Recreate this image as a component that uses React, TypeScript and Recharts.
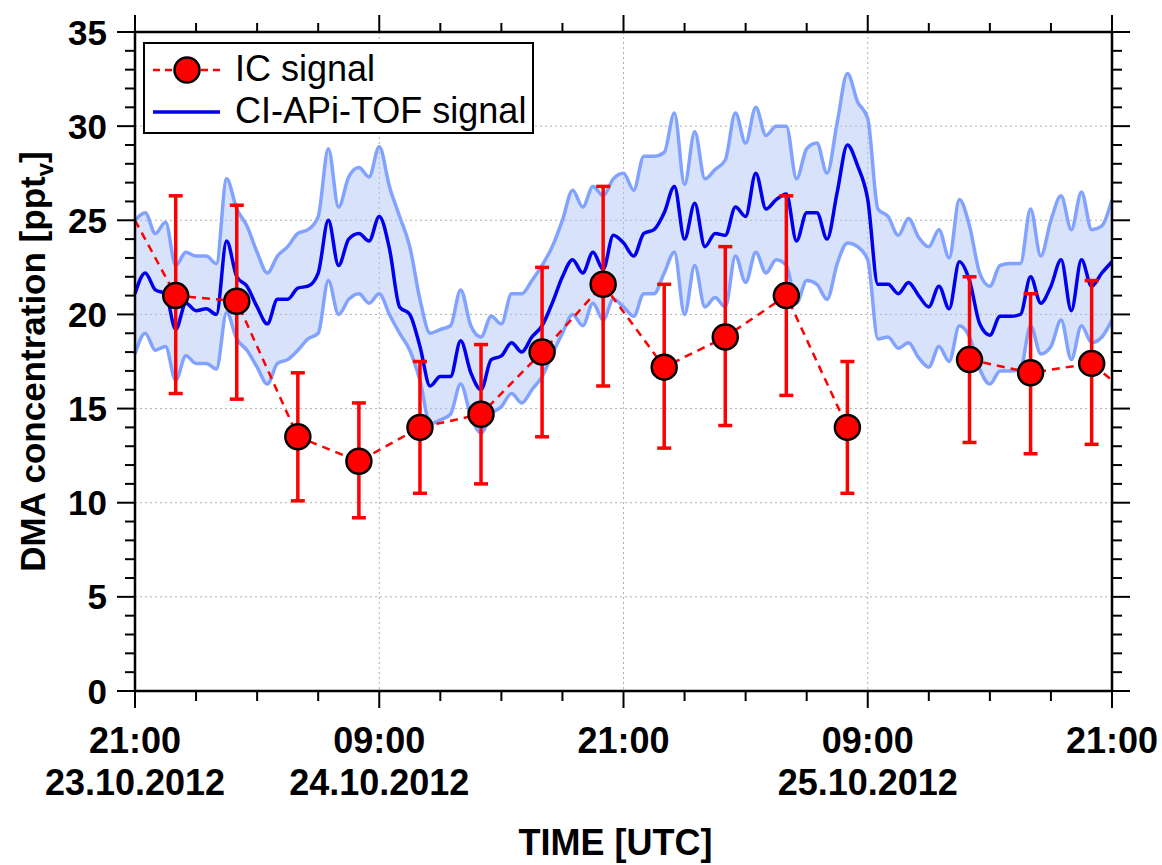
import React from "react";
import {
  ComposedChart,
  Area,
  Line,
  Scatter,
  ErrorBar,
  XAxis,
  YAxis,
  CartesianGrid,
} from "recharts";

const FONT = '"Liberation Sans", Arial, sans-serif';

// hours after 21:00 UTC on 23.10.2012
const ciHours = [
  0, 0.5, 1, 1.5, 2, 2.5, 3, 3.5, 4, 4.5, 5, 5.5, 6, 6.5, 7, 7.5, 8, 8.5, 9, 9.5,
  10, 10.5, 11, 11.5, 12, 12.5, 13, 13.5, 14, 14.5, 15, 15.5, 16, 16.5, 17, 17.5,
  18, 18.5, 19, 19.5, 20, 20.5, 21, 21.5, 22, 22.5, 23, 23.5, 24, 24.5, 25, 25.5,
  26, 26.5, 27, 27.5, 28, 28.5, 29, 29.5, 30, 30.5, 31, 31.5, 32, 32.5, 33, 33.5,
  34, 34.5, 35, 35.5, 36, 36.5, 37, 37.5, 38, 38.5, 39, 39.5, 40, 40.5, 41, 41.5,
  42, 42.5, 43, 43.5, 44, 44.5, 45, 45.5, 46, 46.5, 47, 47.5, 48,
];

// CI-APi-TOF signal and its uncertainty band
const ciSignal = [
  21.1, 22.2, 21.3, 21.1, 19.2, 20.6, 20.2, 20.3, 20.0, 23.9, 22.0, 21.5, 20.4, 19.5, 20.8, 20.8, 21.4, 21.5, 22.2, 25.0,
  22.6, 24.0, 24.3, 23.9, 25.2, 23.5, 20.4, 20.0, 18.3, 16.2, 16.7, 16.7, 18.6, 16.9, 16.0, 17.6,
  17.8, 18.5, 18.0, 18.8, 19.4, 20.6, 22.0, 22.9, 22.2, 23.3, 22.4, 24.2, 23.8, 23.1, 24.3, 24.5,
  25.4, 26.8, 24.0, 25.9, 23.6, 24.3, 24.2, 25.7, 25.2, 27.5, 25.6, 26.1, 26.4, 23.9, 25.4, 25.4,
  24.0, 26.5, 29.0, 27.9, 26.1, 21.6, 21.6, 21.1, 21.7, 21.0, 20.4, 21.5, 20.3, 22.8, 21.8, 19.5,
  18.9, 19.9, 19.9, 20.0, 22.0, 20.6, 21.5, 22.9, 20.2, 22.9, 21.5, 22.2, 22.8,
];
const ciUpper = [
  25.0, 25.4, 24.3, 24.9, 22.6, 23.3, 23.1, 23.1, 22.7, 27.2, 25.6, 24.7, 23.3, 22.2, 23.1, 23.6, 24.3, 24.5, 25.2, 28.8,
  25.7, 27.3, 27.8, 27.3, 28.9, 26.8, 25.2, 23.6, 20.8, 19.0, 19.2, 19.4, 21.3, 19.4, 18.8, 19.9,
  19.5, 21.1, 21.1, 21.8, 22.6, 23.6, 25.0, 26.6, 25.7, 26.8, 26.3, 27.2, 27.5, 26.6, 28.4, 28.4,
  28.6, 30.7, 26.9, 29.7, 27.2, 27.7, 28.2, 30.7, 29.1, 31.0, 29.5, 30.0, 30.0, 27.2, 28.8, 29.1,
  27.5, 30.2, 32.8, 31.3, 30.4, 25.6, 25.2, 24.2, 25.1, 24.1, 23.6, 24.5, 23.0, 26.1, 24.7, 22.2,
  21.5, 22.6, 22.7, 22.7, 25.6, 23.1, 25.0, 26.3, 24.5, 26.5, 24.5, 24.7, 26.1,
];
const ciLower = [
  17.9, 19.0, 18.1, 18.3, 16.5, 17.8, 17.4, 17.4, 17.1, 20.1, 18.7, 18.1, 17.2, 16.3, 17.4, 17.6, 18.1, 18.7, 19.0, 21.8,
  20.0, 20.8, 21.1, 20.6, 21.1, 20.0, 19.0, 18.1, 16.5, 14.2, 14.4, 14.7, 16.3, 14.6, 13.7, 14.7,
  15.1, 15.8, 15.3, 16.0, 16.7, 17.9, 19.0, 20.0, 19.4, 20.6, 19.7, 20.8, 20.4, 19.9, 21.1, 21.1,
  22.2, 23.3, 20.0, 22.6, 20.4, 20.9, 20.4, 23.1, 21.7, 23.3, 22.2, 22.9, 22.6, 20.6, 21.8, 21.6,
  20.8, 22.7, 23.8, 23.6, 22.9, 18.7, 18.8, 18.2, 18.5, 17.7, 17.2, 18.3, 17.5, 19.4, 18.8, 17.1,
  16.3, 17.0, 17.0, 17.1, 19.4, 17.9, 18.3, 19.7, 17.6, 19.4, 18.5, 18.8, 19.7,
];

// IC samples with error bar ends
const icHours = [2, 5, 8, 11, 14, 17, 20, 23, 26, 29, 32, 35, 41, 44, 47];
const icValues = [21.0, 20.7, 13.5, 12.2, 14.0, 14.7, 18.0, 21.6, 17.2, 18.8, 21.0, 14.0, 17.6, 16.9, 17.4];
const icHigh = [26.3, 25.8, 16.9, 15.3, 17.5, 18.4, 22.5, 26.8, 21.6, 23.6, 26.3, 17.5, 22.0, 21.1, 21.8];
const icLow = [15.8, 15.5, 10.1, 9.2, 10.5, 11.0, 13.5, 16.2, 12.9, 14.1, 15.7, 10.5, 13.2, 12.6, 13.1];

// dashed IC trace, running out to the plot edges; null = break
const icTraceHours = [0, 2, 5, 8, 11, 14, 17, 20, 23, 26, 29, 32, 35, 38, 41, 44, 47, 48];
const icTraceValues = [25.0, 21.0, 20.7, 13.5, 12.2, 14.0, 14.7, 18.0, 21.6, 17.2, 18.8, 21.0, 14.0, null, 17.6, 16.9, 17.4, 16.5];

// axes
const hourTicks = [0, 3, 6, 9, 12, 15, 18, 21, 24, 27, 30, 33, 36, 39, 42, 45, 48];
const majorHours = [0, 12, 24, 36, 48];
const tickTimes = ["21:00", "09:00", "21:00", "09:00", "21:00"];
const tickDates = ["23.10.2012", "24.10.2012", "", "25.10.2012", ""];
const concTicks = [
  0, 1, 2, 3, 4, 5, 6, 7, 8, 9, 10, 11, 12, 13, 14, 15, 16, 17, 18, 19, 20, 21, 22, 23,
  24, 25, 26, 27, 28, 29, 30, 31, 32, 33, 34, 35,
];
const gridConc = [5, 10, 15, 20, 25, 30];
const gridHours = [12, 24, 36];

const ciData = ciHours.map((h, i) => ({
  h,
  signal: ciSignal[i],
  upper: ciUpper[i],
  lower: ciLower[i],
  band: [ciLower[i], ciUpper[i]],
}));

const icData = icHours.map((h, i) => ({
  h,
  v: icValues[i],
  err: [icValues[i] - icLow[i], icHigh[i] - icValues[i]],
}));

const icTrace = icTraceHours.map((h, i) => ({ h, v: icTraceValues[i] }));

const axisLine = { stroke: "#000", strokeWidth: 2.5 };

const BottomTick = (props: any) => {
  const { x, y, payload } = props;
  const idx = majorHours.indexOf(payload.value);
  const major = idx >= 0;
  return (
    <g>
      <line x1={x} x2={x} y1={y} y2={y + (major ? 17 : 10)} stroke="#000" strokeWidth={2} />
      {major && (
        <text x={x} y={y + 62} textAnchor="middle" fontFamily={FONT} fontSize={36} fontWeight="bold" fill="#000">
          {tickTimes[idx]}
        </text>
      )}
      {major && tickDates[idx] && (
        <text x={x} y={y + 104} textAnchor="middle" fontFamily={FONT} fontSize={36} fontWeight="bold" fill="#000">
          {tickDates[idx]}
        </text>
      )}
    </g>
  );
};

const TopTick = (props: any) => {
  const { x, y, payload } = props;
  const major = majorHours.includes(payload.value);
  return <line x1={x} x2={x} y1={y} y2={y - (major ? 17 : 9)} stroke="#000" strokeWidth={2} />;
};

const LeftTick = (props: any) => {
  const { x, y, payload } = props;
  const major = payload.value % 5 === 0;
  return (
    <g>
      <line x1={x} x2={x - (major ? 18 : 10)} y1={y} y2={y} stroke="#000" strokeWidth={2} />
      {major && (
        <text x={x - 28} y={y + 12.5} textAnchor="end" fontFamily={FONT} fontSize={35} fontWeight="bold" fill="#000">
          {payload.value}
        </text>
      )}
    </g>
  );
};

const RightTick = (props: any) => {
  const { x, y, payload } = props;
  const major = payload.value % 5 === 0;
  return <line x1={x} x2={x + (major ? 18 : 10)} y1={y} y2={y} stroke="#000" strokeWidth={2} />;
};

const concLabel = (props: any) => {
  const vb = props.viewBox;
  const bx = vb.x + 45;
  const cy = vb.y + vb.height / 2;
  return (
    <text
      x={bx}
      y={cy}
      transform={`rotate(-90, ${bx}, ${cy})`}
      textAnchor="middle"
      fontFamily={FONT}
      fontSize={35}
      fontWeight="bold"
      fill="#000"
    >
      DMA concentration [ppt
      <tspan fontSize={24} dy={8}>v</tspan>
      <tspan dy={-8}>]</tspan>
    </text>
  );
};

const timeLabel = (props: any) => {
  const vb = props.viewBox;
  return (
    <text
      x={vb.x + vb.width / 2 - 8}
      y={vb.y + 164}
      textAnchor="middle"
      fontFamily={FONT}
      fontSize={36}
      fontWeight="bold"
      fill="#000"
    >
      TIME [UTC]
    </text>
  );
};

const IcMarker = (props: any) => (
  <circle cx={props.cx} cy={props.cy} r={12.5} fill="#ff0000" stroke="#000" strokeWidth={2.5} />
);

const LegendBox = () => (
  <div
    style={{
      position: "absolute",
      left: 143,
      top: 42,
      width: 391,
      height: 92,
      boxSizing: "border-box",
      border: "2px solid #000",
      background: "#fff",
      fontFamily: FONT,
      fontSize: 36,
      color: "#000",
    }}
  >
    <svg width={90} height={88} style={{ position: "absolute", left: 0, top: 0 }}>
      <line x1={8} x2={75} y1={26} y2={26} stroke="#ff0000" strokeWidth={2.5} strokeDasharray="7 5" />
      <circle cx={42} cy={26} r={12.5} fill="#ff0000" stroke="#000" strokeWidth={2.5} />
      <line x1={8} x2={75} y1={68} y2={68} stroke="#0000ee" strokeWidth={3.5} />
    </svg>
    <div style={{ position: "absolute", left: 90, top: 5, lineHeight: "40px", whiteSpace: "nowrap" }}>IC signal</div>
    <div style={{ position: "absolute", left: 90, top: 47, lineHeight: "40px", whiteSpace: "nowrap" }}>
      CI-APi-TOF signal
    </div>
  </div>
);

export default function App() {
  return (
    <div style={{ position: "absolute", left: 0, top: 0, width: 1162, height: 865, background: "#fff" }}>
      <ComposedChart width={1162} height={865} margin={{ top: 0, right: 0, bottom: 0, left: 0 }}>
        <CartesianGrid
          xAxisId="b"
          yAxisId="l"
          horizontalValues={gridConc}
          verticalValues={gridHours}
          stroke="#b0b0b0"
          strokeDasharray="2 3"
          strokeWidth={1}
        />
        <XAxis
          xAxisId="b"
          dataKey="h"
          type="number"
          domain={[0, 48]}
          ticks={hourTicks}
          interval={0}
          height={174}
          tickSize={0}
          tickMargin={0}
          tickLine={false}
          axisLine={axisLine}
          tick={<BottomTick />}
          label={timeLabel}
        />
        <XAxis
          xAxisId="t"
          orientation="top"
          dataKey="h"
          type="number"
          domain={[0, 48]}
          ticks={hourTicks}
          interval={0}
          height={32}
          tickSize={0}
          tickMargin={0}
          tickLine={false}
          axisLine={axisLine}
          tick={<TopTick />}
        />
        <YAxis
          yAxisId="l"
          type="number"
          domain={[0, 35]}
          ticks={concTicks}
          interval={0}
          width={135}
          tickSize={0}
          tickMargin={0}
          tickLine={false}
          axisLine={axisLine}
          tick={<LeftTick />}
          label={concLabel}
        />
        <YAxis
          yAxisId="r"
          orientation="right"
          type="number"
          domain={[0, 35]}
          ticks={concTicks}
          interval={0}
          width={50}
          tickSize={0}
          tickMargin={0}
          tickLine={false}
          axisLine={axisLine}
          tick={<RightTick />}
        />

        <Area
          xAxisId="b"
          yAxisId="l"
          data={ciData}
          dataKey="band"
          type="monotone"
          stroke="none"
          fill="#a9bff4"
          fillOpacity={0.45}
          isAnimationActive={false}
        />
        <Line
          xAxisId="t"
          yAxisId="r"
          data={ciData}
          dataKey="upper"
          type="monotone"
          stroke="#82a2ff"
          strokeWidth={3.5}
          dot={false}
          activeDot={false}
          isAnimationActive={false}
        />
        <Line
          xAxisId="t"
          yAxisId="r"
          data={ciData}
          dataKey="lower"
          type="monotone"
          stroke="#82a2ff"
          strokeWidth={3.5}
          dot={false}
          activeDot={false}
          isAnimationActive={false}
        />
        <Line
          xAxisId="b"
          yAxisId="l"
          data={ciData}
          dataKey="signal"
          type="monotone"
          stroke="#0000ee"
          strokeWidth={3.5}
          dot={false}
          activeDot={false}
          isAnimationActive={false}
        />
        <Line
          xAxisId="b"
          yAxisId="l"
          data={icTrace}
          dataKey="v"
          type="linear"
          stroke="#ff0000"
          strokeWidth={2.5}
          strokeDasharray="8 6"
          dot={false}
          activeDot={false}
          isAnimationActive={false}
        />
        <Scatter
          xAxisId="b"
          yAxisId="l"
          data={icData}
          dataKey="v"
          shape={IcMarker}
          isAnimationActive={false}
        >
          <ErrorBar dataKey="err" direction="y" width={7} strokeWidth={3.5} stroke="#ff0000" />
        </Scatter>
      </ComposedChart>
      <LegendBox />
    </div>
  );
}
